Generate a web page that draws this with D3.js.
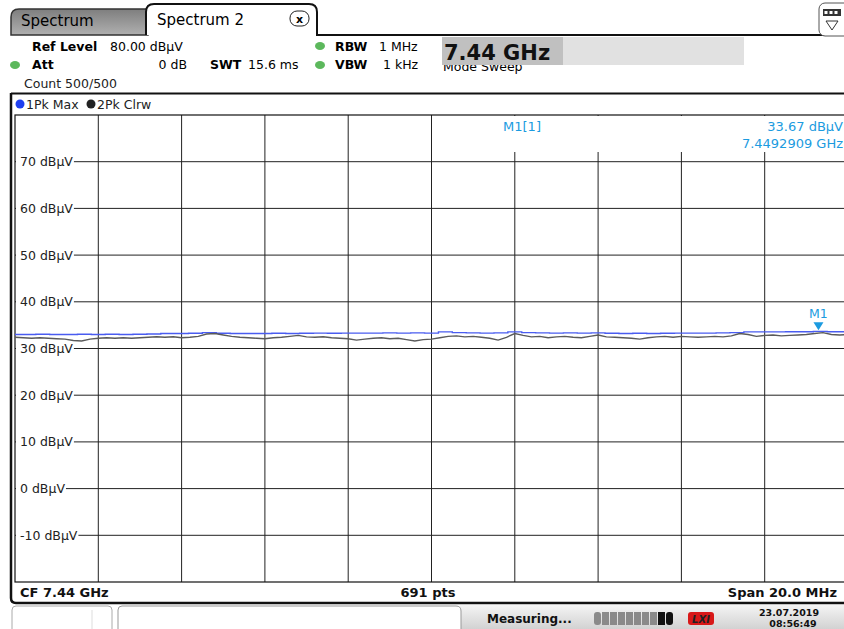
<!DOCTYPE html>
<html>
<head>
<meta charset="utf-8">
<script src="https://cdn.jsdelivr.net/npm/d3@7"></script>
<style>
  html, body { margin: 0; padding: 0; background: #fff; }
  svg { display: block; font-family: "DejaVu Sans", Verdana, sans-serif; }
</style>
</head>
<body>
<svg id="chart" width="844" height="629"></svg>
<script>
// ---- Data ----
const freqStartGHz = 7.43;
const freqStopGHz = 7.45;
const dbTicks = [70, 60, 50, 40, 30, 20, 10, 0, -10];
const dbTickLabels = ["70 dBµV", "60 dBµV", "50 dBµV", "40 dBµV", "30 dBµV", "20 dBµV", "10 dBµV", "0 dBµV", "-10 dBµV"];
const freqGridTicks = [7.432, 7.434, 7.436, 7.438, 7.440, 7.442, 7.444, 7.446, 7.448];
// Trace 1: 1Pk Max (blue)
const trace1PkMax = [33.0,33.0,33.05,33.0,33.0,33.05,33.0,33.05,33.0,33.05,33.1,33.2,33.2,33.25,33.4,33.25,33.2,33.2,33.2,33.25,33.2,33.25,33.3,33.25,33.3,33.3,33.3,33.35,33.3,33.35,33.3,33.55,33.4,33.35,33.3,33.35,33.55,33.4,33.35,33.3,33.35,33.3,33.35,33.25,33.2,33.25,33.2,33.25,33.3,33.3,33.3,33.35,33.4,33.55,33.55,33.55,33.6,33.6,33.67,33.6,33.6];
// Trace 2: 2Pk Clrw (dark grey)
const trace2PkClrw = [32.4,32.3,32.2,32.3,32.2,32.1,32.0,31.7,31.6,32.0,32.2,32.3,32.2,32.3,32.2,32.3,32.4,32.5,32.4,32.5,32.3,32.4,32.6,33.1,33.2,32.9,32.6,32.4,32.3,32.2,32.1,32.3,32.4,32.6,32.8,32.5,32.4,32.5,32.3,32.2,32.1,31.8,32.0,32.2,32.3,32.1,32.2,31.9,31.6,31.9,32.0,32.3,32.6,32.7,32.5,32.6,32.4,32.2,31.8,32.4,33.2,32.8,32.5,32.6,32.3,32.5,32.6,32.4,32.3,32.6,32.9,32.5,32.4,32.3,32.2,32.0,32.3,32.5,32.6,32.4,32.6,32.5,32.4,32.5,32.6,32.5,32.7,33.2,33.0,32.6,32.8,32.9,32.7,32.8,32.9,33.0,33.2,33.4,33.0,32.9,33.0];
const marker = { name: "M1", freqGHz: 7.4492909, level: 33.67 };

// ---- Layout ----
const svg = d3.select("#chart");
const plot = { left: 15, right: 848, top: 115, bottom: 582 };
const x = d3.scaleLinear().domain([freqStartGHz, freqStopGHz]).range([plot.left, plot.right]);
const y = d3.scaleLinear().domain([-20, 80]).range([plot.bottom, plot.top]);
const blueCol = "#1b9be0";

svg.append("rect").attr("width", 844).attr("height", 629).attr("fill", "#fff");

// ---- Tabs header ----
const defs = svg.append("defs");
const g1 = defs.append("linearGradient").attr("id", "tabGrad").attr("x1", 0).attr("y1", 0).attr("x2", 0).attr("y2", 1);
g1.append("stop").attr("offset", "0%").attr("stop-color", "#7e7e7e");
g1.append("stop").attr("offset", "100%").attr("stop-color", "#b0b0b0");
const g2 = defs.append("linearGradient").attr("id", "barGrad").attr("x1", 0).attr("y1", 0).attr("x2", 0).attr("y2", 1);
g2.append("stop").attr("offset", "0%").attr("stop-color", "#f4f4f4");
g2.append("stop").attr("offset", "100%").attr("stop-color", "#d2d2d2");

svg.append("path")
  .attr("d", "M11,35 L11,17 Q11,9 19,9 L148,9 L148,35 Z")
  .attr("fill", "url(#tabGrad)").attr("stroke", "#333").attr("stroke-width", 1.5);
svg.append("text").attr("x", 21).attr("y", 26).attr("font-size", 15).attr("fill", "#000").text("Spectrum");

svg.append("path")
  .attr("d", "M146,35 L146,12 Q146,4 154,4 L309,4 Q317,4 317,12 L317,35 L844,35")
  .attr("fill", "#fff").attr("stroke", "#111").attr("stroke-width", 2);
svg.append("text").attr("x", 157).attr("y", 25).attr("font-size", 15).attr("fill", "#000").text("Spectrum 2");
svg.append("rect").attr("x", 290).attr("y", 11).attr("width", 19).attr("height", 15).attr("rx", 7)
  .attr("fill", "#fff").attr("stroke", "#222").attr("stroke-width", 1);
svg.append("text").attr("x", 299.5).attr("y", 22.5).attr("font-size", 11).attr("font-weight", "bold").attr("text-anchor", "middle").text("x");

// top-right icon
svg.append("rect").attr("x", 819).attr("y", 3).attr("width", 32).attr("height", 33).attr("rx", 6)
  .attr("fill", "#fff").attr("stroke", "#555").attr("stroke-width", 1);
svg.append("rect").attr("x", 823).attr("y", 9).attr("width", 18).attr("height", 7).attr("fill", "#333");
[826, 831, 836].forEach(cx => svg.append("rect").attr("x", cx - 1.5).attr("y", 11).attr("width", 3).attr("height", 3).attr("fill", "#fff"));
svg.append("path").attr("d", "M826,21 L838,21 L832,30 Z").attr("fill", "none").attr("stroke", "#333").attr("stroke-width", 1);

// ---- Info area ----
function dot(cx, cy) {
  svg.append("ellipse").attr("cx", cx).attr("cy", cy).attr("rx", 5).attr("ry", 4).attr("fill", "#5cb85c");
}
const info = svg.append("g").attr("font-size", 12.5).attr("fill", "#000");
info.append("text").attr("x", 32).attr("y", 51).attr("font-weight", "bold").text("Ref Level");
info.append("text").attr("x", 110).attr("y", 51).text("80.00 dBµV");
dot(15, 65);
info.append("text").attr("x", 32).attr("y", 69).attr("font-weight", "bold").text("Att");
info.append("text").attr("x", 187).attr("y", 69).attr("text-anchor", "end").text("0 dB");
info.append("text").attr("x", 210).attr("y", 69).attr("font-weight", "bold").text("SWT");
info.append("text").attr("x", 248).attr("y", 69).text("15.6 ms");
dot(320, 46);
dot(320, 65);
info.append("text").attr("x", 335).attr("y", 51).attr("font-weight", "bold").text("RBW");
info.append("text").attr("x", 379).attr("y", 51).text("1 MHz");
info.append("text").attr("x", 335).attr("y", 69).attr("font-weight", "bold").text("VBW");
info.append("text").attr("x", 383).attr("y", 69).text("1 kHz");
info.append("text").attr("x", 24).attr("y", 88).attr("fill", "#222").text("Count 500/500");
info.append("text").attr("x", 443).attr("y", 71).text("Mode  Sweep");
// Centre-frequency display box
svg.append("rect").attr("x", 442).attr("y", 37).attr("width", 302).attr("height", 28).attr("fill", "#e1e1e1");
svg.append("rect").attr("x", 442).attr("y", 37).attr("width", 121).attr("height", 28).attr("fill", "#c0c0c0");
svg.append("text").attr("x", 444).attr("y", 60).attr("font-size", 21).attr("font-weight", "bold").attr("fill", "#111").text("7.44 GHz");

// ---- Frame lines ----
svg.append("line").attr("x1", 11).attr("x2", 844).attr("y1", 93.5).attr("y2", 93.5).attr("stroke", "#111").attr("stroke-width", 2);
svg.append("path").attr("d", "M11,93 L11,598 Q11,603 16,603 L844,603").attr("fill", "none").attr("stroke", "#111").attr("stroke-width", 2.5);

// Legend row
svg.append("circle").attr("cx", 20).attr("cy", 104).attr("r", 4.5).attr("fill", "#1f3ff0");
svg.append("text").attr("x", 26).attr("y", 108.5).attr("font-size", 12.5).attr("fill", "#222").text("1Pk Max");
svg.append("circle").attr("cx", 91).attr("cy", 104).attr("r", 4.5).attr("fill", "#222");
svg.append("text").attr("x", 97).attr("y", 108.5).attr("font-size", 12.5).attr("fill", "#222").text("2Pk Clrw");

// ---- Grid ----
const grid = svg.append("g").attr("stroke", "#222").attr("stroke-width", 1);
grid.selectAll("line.v").data(freqGridTicks).join("line").attr("class", "v")
  .attr("x1", d => x(d)).attr("x2", d => x(d)).attr("y1", plot.top).attr("y2", plot.bottom);
grid.selectAll("line.h").data(dbTicks).join("line").attr("class", "h")
  .attr("x1", plot.left).attr("x2", plot.right).attr("y1", d => y(d)).attr("y2", d => y(d));
svg.append("rect").attr("x", plot.left).attr("y", plot.top).attr("width", plot.right - plot.left).attr("height", plot.bottom - plot.top)
  .attr("fill", "none").attr("stroke", "#111").attr("stroke-width", 1.2);

// y labels with white backgrounds
const yl = svg.append("g").attr("font-size", 12.5).attr("fill", "#222");
dbTicks.forEach((v, i) => {
  const t = yl.append("text").attr("x", 20).attr("y", y(v) + 4.5).text(dbTickLabels[i]);
  const w = t.node().getComputedTextLength();
  yl.insert("rect", "text").attr("x", 16).attr("y", y(v) - 7).attr("width", w + 5).attr("height", 14).attr("fill", "#fff");
});

// Marker info (white box covers the grid)
svg.append("rect").attr("x", 432).attr("y", plot.top + 1).attr("width", 420).attr("height", 36).attr("fill", "#fff");
const mi = svg.append("g").attr("font-size", 13).attr("fill", blueCol);
mi.append("text").attr("x", 522).attr("y", 131).attr("text-anchor", "middle").text("M1[1]");
mi.append("text").attr("x", 843).attr("y", 131).attr("text-anchor", "end").text(marker.level.toFixed(2) + " dBµV");
mi.append("text").attr("x", 843).attr("y", 148).attr("text-anchor", "end").text(marker.freqGHz.toFixed(7) + " GHz");

// ---- Traces ----
const idx1 = d3.scaleLinear().domain([0, trace1PkMax.length - 1]).range([freqStartGHz, freqStopGHz]);
const idx2 = d3.scaleLinear().domain([0, trace2PkClrw.length - 1]).range([freqStartGHz, freqStopGHz]);
const line1 = d3.line().x((d, i) => x(idx1(i))).y(d => y(d)).curve(d3.curveStep);
const line2 = d3.line().x((d, i) => x(idx2(i))).y(d => y(d));
svg.append("path").datum(trace1PkMax).attr("d", line1).attr("fill", "none").attr("stroke", "#4a5cf0").attr("stroke-width", 1.4);
svg.append("path").datum(trace2PkClrw).attr("d", line2).attr("fill", "none").attr("stroke", "#5a5a5a").attr("stroke-width", 1.4);

// Marker
const mx = x(marker.freqGHz), my = y(marker.level);
svg.append("path").attr("d", `M${mx - 5},${my - 9} L${mx + 5},${my - 9} L${mx},${my - 1} Z`).attr("fill", blueCol);
svg.append("text").attr("x", mx).attr("y", my - 13).attr("text-anchor", "middle").attr("font-size", 12.5).attr("fill", blueCol).text(marker.name);

// ---- Bottom info row ----
const bot = svg.append("g").attr("font-size", 13).attr("font-weight", "bold").attr("fill", "#111");
bot.append("text").attr("x", 20).attr("y", 597).text("CF 7.44 GHz");
bot.append("text").attr("x", 428).attr("y", 597).attr("text-anchor", "middle").text("691 pts");
bot.append("text").attr("x", 837).attr("y", 597).attr("text-anchor", "end").text("Span 20.0 MHz");

// ---- Status bar ----
svg.append("rect").attr("x", 460).attr("y", 605).attr("width", 384).attr("height", 24).attr("fill", "url(#barGrad)");
svg.append("path").attr("d", "M12,629 L12,610 Q12,606 16,606 L108,606 Q112,606 112,610 L112,629").attr("fill", "#fff").attr("stroke", "#aaa");
svg.append("line").attr("x1", 92).attr("x2", 92).attr("y1", 610).attr("y2", 629).attr("stroke", "#ddd");
svg.append("path").attr("d", "M118,629 L118,610 Q118,606 122,606 L456,606 Q461,606 461,611 L461,629").attr("fill", "#fff").attr("stroke", "#999");
svg.append("text").attr("x", 487).attr("y", 623).attr("font-size", 12).attr("font-weight", "bold").attr("fill", "#111").text("Measuring...");
const segs = d3.range(10);
svg.append("g").selectAll("rect").data(segs).join("rect")
  .attr("x", d => 594 + d * 8).attr("y", 612).attr("width", 7).attr("height", 13).attr("rx", d => (d === 0 || d === 9) ? 3 : 0)
  .attr("fill", d => d >= 8 ? "#111" : "#8a8a8a");
svg.append("rect").attr("x", 688).attr("y", 612).attr("width", 26).attr("height", 13).attr("rx", 3).attr("fill", "#d81818");
svg.append("text").attr("x", 701).attr("y", 623).attr("text-anchor", "middle").attr("font-size", 10).attr("font-style", "italic").attr("font-weight", "bold").attr("fill", "#222").text("LXI");
svg.append("text").attr("x", 789).attr("y", 616).attr("text-anchor", "middle").attr("font-size", 9.5).attr("font-weight", "bold").attr("fill", "#111").text("23.07.2019");
svg.append("text").attr("x", 793).attr("y", 627).attr("text-anchor", "middle").attr("font-size", 9.5).attr("font-weight", "bold").attr("fill", "#111").text("08:56:49");
</script>
</body>
</html>
